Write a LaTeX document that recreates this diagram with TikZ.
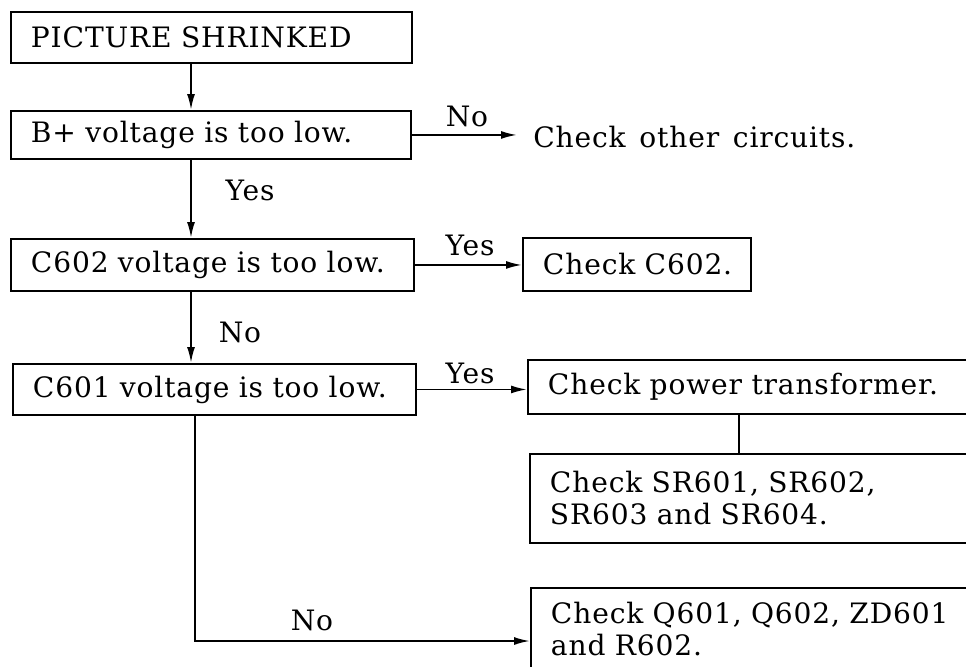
\documentclass[tikz,border=0pt]{standalone}
\usepackage{fontspec}
\setmainfont{DejaVu Serif}[LetterSpace=3,WordSpace=1.4]
\usetikzlibrary{arrows.meta}
\begin{document}
\begin{tikzpicture}[x=0.02cm,y=-0.02cm,
  every node/.style={font=\fontsize{16}{18.2}\selectfont},
  box/.style={draw,line width=1.1pt,anchor=north west,inner xsep=0.4cm,inner ysep=0pt,align=left},
  lbl/.style={inner sep=0pt},
  conn/.style={line width=1.1pt},
  arr/.style={conn,-{Latex[length=0.32cm,width=0.16cm]}}]
\useasboundingbox (0,0) rectangle (966,666);
\clip (0,0) rectangle (966,666);
\coordinate (xa) at (191,0);
\coordinate (xb) at (195,0);
\coordinate (xc) at (739,0);
\coordinate (yq) at (0,641);
\node[box,text width=7.22cm,minimum height=1.02cm] (b1) at (10,11) {\rlap{PICTURE SHRINKED}};
\node[box,text width=7.2cm,minimum height=0.96cm] (b2) at (10,110) {\rlap{B+ voltage is too low.}};
\node[box,text width=7.26cm,minimum height=1.04cm] (b3) at (10,238) {\rlap{C602 voltage is too low.}};
\node[box,text width=7.26cm,minimum height=1.02cm] (b4) at (12,363) {\rlap{C601 voltage is too low.}};
\node[box,text width=3.76cm,minimum height=1.06cm] (c2) at (522,237) {\rlap{Check C602.}};
\node[box,text width=8.66cm,minimum height=1.08cm] (pt) at (527,359) {\rlap{Check power transformer.}};
\node[box,text width=8.62cm,minimum height=1.78cm] (sr) at (529,453) {Check SR601, SR602,\\SR603 and SR604.};
\node[box,text width=8.6cm,minimum height=1.66cm] (q) at (530,587) {\rlap{Check Q601, Q602, ZD601}\\and R602.};
\node[anchor=west,inner xsep=0.32cm,inner ysep=0pt] (oth) at (517,137) {Check other circuits.};
\draw[arr] (b1.south -| xa) -- (b2.north -| xa);
\draw[arr] (b2.east) -- (b2.east -| oth.west);
\draw[arr] (b2.south -| xa) -- (b3.north -| xa);
\draw[arr] (b3.east) -- (b3.east -| c2.west);
\draw[arr] (b3.south -| xa) -- (b4.north -| xa);
\draw[arr] (b4.east) -- (b4.east -| pt.west);
\draw[conn] (pt.south -| xc) -- (sr.north -| xc);
\draw[arr] (b4.south -| xb) |- (q.west |- yq);
\node[lbl] (l1) at (467,116) {No};
\node[lbl] (l2) at (250,190) {Yes};
\node[lbl] (l3) at (470,245) {Yes};
\node[lbl] (l4) at (240,332) {No};
\node[lbl] (l5) at (470,373) {Yes};
\node[lbl] (l6) at (312,620) {No};
\end{tikzpicture}
\end{document}
